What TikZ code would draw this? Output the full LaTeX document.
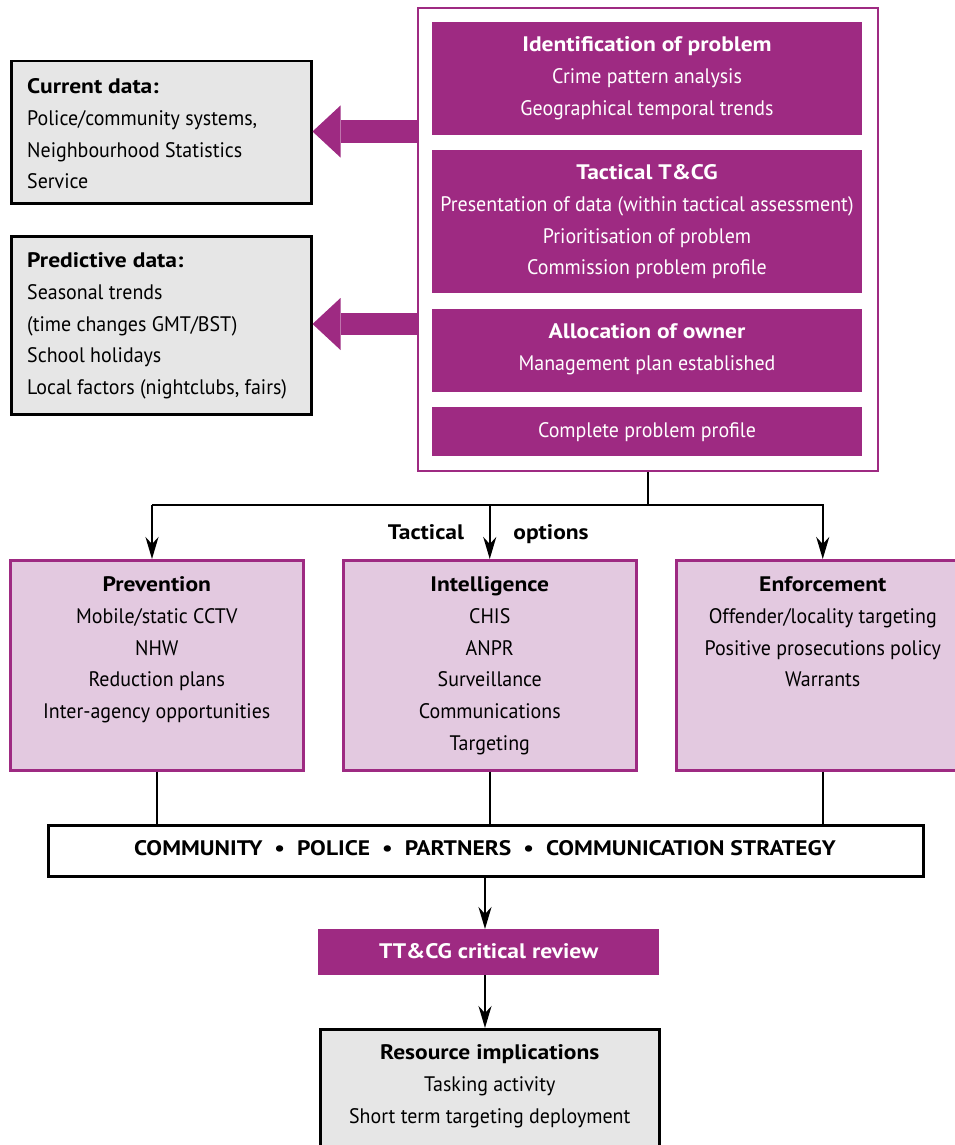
\documentclass[tikz,border=0pt]{standalone}
\usepackage{fontspec}
\setmainfont{PT Sans}[UprightFeatures={FakeStretch=0.95}, BoldFeatures={FakeStretch=1.12}]
\usetikzlibrary{arrows.meta}
\definecolor{pur}{RGB}{158,42,130}
\definecolor{pinkfill}{RGB}{227,201,224}
\definecolor{lgray}{RGB}{230,230,230}
\begin{document}
\begin{tikzpicture}[x=1pt,y=-1pt,
  txt/.style={inner sep=0pt, align=center, anchor=north, font=\fontsize{21}{31.8}\selectfont},
  ltxt/.style={txt, align=left, anchor=north west},
  wtxt/.style={txt, text=white},
  pbox/.style={draw=none, fill=pur, inner sep=0pt, minimum width=430, anchor=north west},
  gbox/.style={draw=black, line width=2.5pt, fill=lgray, inner sep=0pt, anchor=north west},
  kbox/.style={draw=pur, line width=2.5pt, fill=pinkfill, inner sep=0pt, minimum width=293, minimum height=210, anchor=north west},
  conn/.style={draw=black, line width=2pt},
  arr/.style={-{Stealth[length=22pt,width=13pt,inset=7pt]}},
  fat/.style={draw=pur, line width=22pt, -{Triangle[length=28pt,width=52pt,line width=0pt]}}
]
\useasboundingbox (0,0) rectangle (955,1145);
\fill[white] (0,0) rectangle (955,1145);

% outer frame
\node[draw=pur, line width=2pt, fill=white, inner sep=0pt, minimum width=460, minimum height=463, anchor=north west] (outer) at (417,7) {};

% purple blocks
\node[pbox, minimum height=113] (b1) at (432,22) {};
\node[pbox, minimum height=143] (b2) at (432,150) {};
\node[pbox, minimum height=83] (b3) at (432,309) {};
\node[pbox, minimum height=49] (b4) at (432,407) {};
\node[wtxt] (t1) at (647,29) {\strut\textbf{Identification of problem}\\Crime pattern analysis\\Geographical temporal trends};
\node[wtxt] (t2) at (647,157) {\strut\textbf{Tactical T\&CG}\\Presentation of data (within tactical assessment)\\Prioritisation of problem\\Commission problem profile};
\node[wtxt] (t3) at (647,316) {\strut\textbf{Allocation of owner}\\Management plan established};
\node[wtxt] (t4) at (647,415) {\strut Complete problem profile};

% left grey boxes
\node[gbox, minimum width=300, minimum height=142] (cur) at (10,60) {};
\node[ltxt] (curt) at (27,71) {\strut\textbf{Current data:}\\Police/community systems,\\Neighbourhood Statistics\\Service};
\node[gbox, minimum width=300, minimum height=178] (pre) at (10,235) {};
\node[ltxt] (pret) at (27,245) {\strut\textbf{Predictive data:}\\Seasonal trends\\(time changes GMT/BST)\\School holidays\\Local factors (nightclubs, fairs)};

% fat arrows
\coordinate (ya) at (0,131.5);
\coordinate (yb) at (0,324);
\draw[fat] (outer.west |- ya) -- (cur.east |- ya);
\draw[fat] (outer.west |- yb) -- (pre.east |- yb);

% tactical option boxes
\node[kbox] (prev) at (9,559) {};
\node[kbox] (intel) at (342,559) {};
\node[kbox] (enf) at (675,559) {};
\node[txt] (prevt) at (prev.north |- 0,569) {\strut\textbf{Prevention}\\Mobile/static CCTV\\NHW\\Reduction plans\\Inter-agency opportunities};
\node[txt] (intelt) at (intel.north |- 0,569) {\strut\textbf{Intelligence}\\CHIS\\ANPR\\Surveillance\\Communications\\Targeting};
\node[txt] (enft) at (enf.north |- 0,569) {\strut\textbf{Enforcement}\\Offender/locality targeting\\Positive prosecutions policy\\Warrants};

% tactical options label
\node[txt, anchor=base] (tac) at (426,539) {\textbf{Tactical}};
\node[txt, anchor=base] (opt) at (551,539) {\textbf{options}};

% split connectors
\coordinate (ybar) at (0,505);
\coordinate (bar) at (outer.south |- ybar);
\coordinate (pin) at (152,505);
\draw[conn] (outer.south) -- (bar);
\draw[conn] (bar) -- (pin);
\draw[conn, arr] (pin) -- (pin |- prev.north);
\draw[conn, arr] (intel.north |- bar) -- (intel.north);
\draw[conn, arr] (bar) -| (enf.north);

% community box
\node[draw=black, line width=2.5pt, fill=white, inner sep=0pt, minimum width=875, minimum height=51, anchor=north west] (comm) at (47,824) {};
\node[txt, anchor=base] (commt) at (485,855) {\textbf{COMMUNITY\hspace{12pt}\textbullet\hspace{12pt}POLICE\hspace{12pt}\textbullet\hspace{12pt}PARTNERS\hspace{12pt}\textbullet\hspace{12pt}COMMUNICATION STRATEGY}};
\draw[conn] (prev.south) -- (prev.south |- comm.north);
\draw[conn] (intel.south) -- (intel.south |- comm.north);
\draw[conn] (enf.south) -- (enf.south |- comm.north);

% review
\node[fill=pur, inner sep=0pt, minimum width=341, minimum height=46, anchor=north west] (tt) at (318,929) {};
\node[wtxt, anchor=base] (ttt) at (tt.center |- 0,958) {\textbf{TT\&CG critical review}};
\coordinate (c1) at (485,0);
\draw[conn, arr] (comm.south -| c1) -- (tt.north -| c1);

% resource
\node[gbox, minimum width=339, minimum height=130] (res) at (319,1028) {};
\node[txt] (rest) at (res.north |- 0,1037) {\strut\textbf{Resource implications}\\Tasking activity\\Short term targeting deployment};
\draw[conn, arr] (tt.south -| c1) -- (res.north -| c1);
\end{tikzpicture}
\end{document}
